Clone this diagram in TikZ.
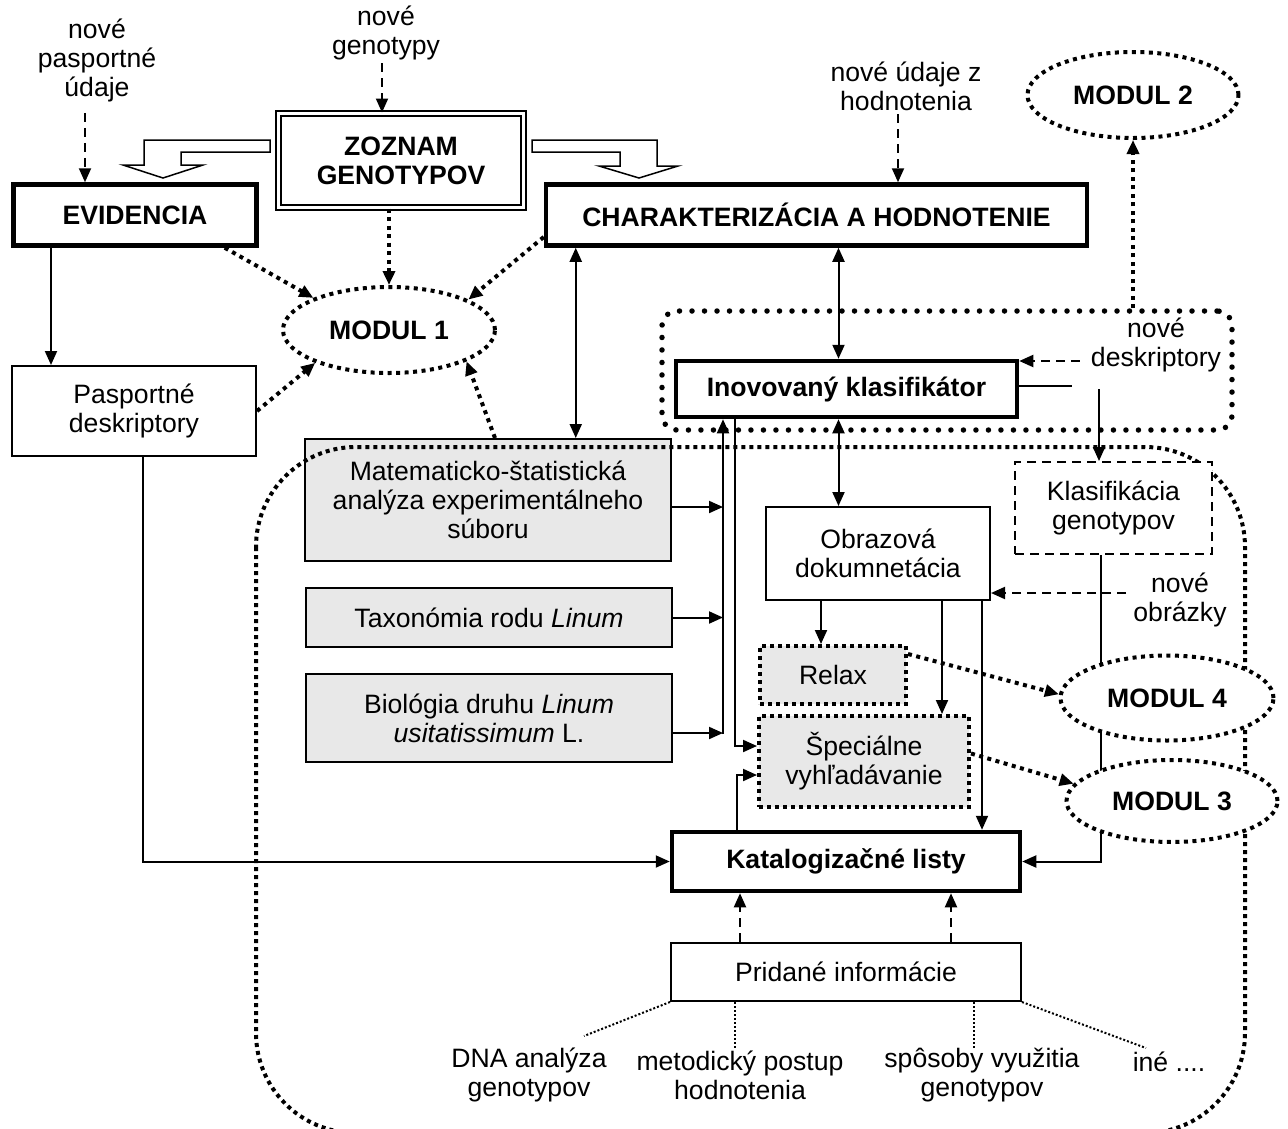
\documentclass[tikz,border=0pt]{standalone}
\usepackage{fontspec}
\setmainfont{Liberation Sans}
\usetikzlibrary{shapes.geometric,arrows.meta}

\begin{document}
\begin{tikzpicture}[x=1pt, y=-1pt, >={Triangle[length=14pt,width=12pt]},
	font=\fontsize{26.6}{29}\selectfont,
	box/.style={draw, line width=2pt, align=center, inner sep=0pt},
	mainbox/.style={box, line width=4.5pt, font=\fontsize{26.6}{29}\selectfont\bfseries},
	infobox/.style={box, fill=gray!18},
	searchbox/.style={box, fill=gray!18, line width=4pt, dash pattern=on 4pt off 4pt},
	modul/.style={ellipse, draw, fill=white, line width=4pt, dash pattern=on 4pt off 4.5pt, inner sep=0pt, font=\fontsize{26.6}{29}\selectfont\bfseries},
	txt/.style={align=center, inner sep=3pt},
	flow/.style={->, line width=2pt},
	newin/.style={->, line width=2pt, dash pattern=on 9pt off 6pt},
	modlink/.style={->, line width=4pt, dash pattern=on 4pt off 4.5pt},
	addlink/.style={line width=2pt, dash pattern=on 2pt off 2pt}]
\useasboundingbox (0,0) rectangle (1288,1128);
\fill[white] (0,0) rectangle (1288,1128);
\clip (0,0) rectangle (1288,1128);

% top row
\node[mainbox, double, double distance=3pt, line width=2pt, minimum width=245pt, minimum height=94pt] (zoznam) at (401,160.5) {ZOZNAM\\GENOTYPOV};
\node[mainbox, minimum width=243pt, minimum height=61pt] (evid) at (135,215) {EVIDENCIA};
\node[mainbox, minimum width=541pt, minimum height=61pt] (charakt) at (816.5,215) {CHARAKTERIZÁCIA A HODNOTENIE};
\draw[line width=1.5pt, fill=white] (270,140) -- (144,140) -- (144,165) -- (123,165) -- (163,178) -- (203,165) -- (181,165) -- (181,152) -- (270,152) -- cycle;
\draw[line width=1.5pt, fill=white] (532,140) -- (657,140) -- (657,166) -- (678,166) -- (639,178) -- (599,166) -- (620,166) -- (620,152) -- (532,152) -- cycle;

\node[txt] (npasp) at (97,60) {nové\\pasportné\\údaje};
\node[txt] (ngen) at (386,33) {nové\\genotypy};
\node[txt] (nudaje) at (906,86.5) {nové údaje z\\hodnotenia};

\node[box, minimum width=244pt, minimum height=90pt] (pasport) at (134,411) {Pasportné\\deskriptory};
\node[modul, minimum width=212pt, minimum height=86pt] (modul1) at (389,330) {MODUL 1};
\node[modul, minimum width=211pt, minimum height=86pt] (modul2) at (1133,95) {MODUL 2};

% klasifikator
\node[draw, line width=5.5pt, line cap=round, dash pattern=on 0pt off 12.5pt, rounded corners=15pt, minimum width=570pt, minimum height=119pt] (klasgrp) at (947,370.5) {};
\node[mainbox, minimum width=341pt, minimum height=56pt] (inov) at (846.5,389) {Inovovaný klasifikátor};
\node[txt] (ndesk) at (1156,345) {nové\\deskriptory};

% gray boxes
\node[infobox, minimum width=366pt, minimum height=122pt] (mat) at (488,500) {Matematicko-štatistická\\analýza experimentálneho\\súboru};
\node[infobox, minimum width=366pt, minimum height=59pt] (taxon) at (489,617.5) {Taxonómia rodu \textit{Linum}};
\node[infobox, minimum width=366pt, minimum height=88pt] (biol) at (489,718) {Biológia druhu \textit{Linum}\\\textit{usitatissimum} L.};

\draw[line width=4pt, dash pattern=on 4pt off 4pt, rounded corners=100pt] (256,447) rectangle (1245,1133);

\node[box, minimum width=224pt, minimum height=93pt] (obraz) at (878,553.5) {Obrazová\\dokumnetácia};
\node[box, fill=white, dash pattern=on 9pt off 6pt, minimum width=197pt, minimum height=92pt] (klasif) at (1113.5,508) {Klasifikácia\\genotypov};
\node[txt] (nobr) at (1180,600) {nové\\obrázky};
\node[searchbox, minimum width=146pt, minimum height=58pt] (relax) at (833,675) {Relax};
\node[searchbox, minimum width=210pt, minimum height=91pt] (spec) at (864,761.5) {Špeciálne\\vyhľadávanie};
\node[mainbox, minimum width=348pt, minimum height=59pt] (katalog) at (846,861.5) {Katalogizačné listy};
\node[box, minimum width=350pt, minimum height=58pt] (pridane) at (846,972) {Pridané informácie};

\node[txt] (dna) at (529,1075) {DNA analýza\\genotypov};
\node[txt] (metod) at (740,1075) {metodický postup\\hodnotenia};
\node[txt] (sposob) at (982,1075) {spôsoby využitia\\genotypov};
\node[txt] (ine) at (1169,1062) {iné ....};

\coordinate (kend) at (1072,386);
\coordinate (kstart) at (1099,389);
\coordinate (coll) at (723,734);
\coordinate (dnaend) at (584,1036);
\coordinate (metend) at (735,1049);
\coordinate (spoend) at (974,1049);
\coordinate (ineend) at (1146,1048);

% new inputs
\draw[newin] ([xshift=-12pt,yshift=-8pt]npasp.south) -- ([xshift=-12pt]npasp.south |- evid.north);
\draw[newin] ([xshift=-4pt]ngen.south) -- ([xshift=-4pt]ngen.south |- zoznam.north);
\draw[newin] ([xshift=-8pt]nudaje.south) -- ([xshift=-8pt]nudaje.south |- charakt.north);
\draw[newin] ([xshift=-8pt,yshift=-16pt]ndesk.west) -- ([yshift=-16pt]ndesk.west -| inov.east);
\draw[newin] ([xshift=-4pt,yshift=7pt]nobr.west) -- ([yshift=7pt]nobr.west -| obraz.east);

% solid connectors
\draw[flow] ([xshift=-84pt]evid.south) -- ([xshift=-84pt]evid.south |- pasport.north);
\draw[flow] ([xshift=9pt]pasport.south) |- (katalog.west);
\draw[flow, <->] ([xshift=32pt]charakt.south west) -- ([xshift=32pt]charakt.south west |- mat.north);
\draw[flow, <->] ([xshift=-8pt]inov.north |- charakt.south) -- ([xshift=-8pt]inov.north);
\draw[flow, <->] ([xshift=-8pt]inov.south) -- ([xshift=-8pt]inov.south |- obraz.north);
\draw[line width=2pt] ([yshift=3pt]inov.east) -- (kend);
\draw[flow] (kstart) -- (kstart |- klasif.north);
\draw[flow] (coll) -- (coll |- inov.south);
\draw[flow] ([yshift=-7pt]mat.east) -- ([yshift=-7pt]mat.east -| coll);
\draw[flow] (taxon.east) -- (taxon.east -| coll);
\draw[flow] ([yshift=-15pt]biol.east) -- ([yshift=-15pt]biol.east -| coll);
\draw[flow] ([xshift=61pt]inov.south west) |- ([yshift=15.5pt]spec.west);
\draw[flow] ([xshift=-109pt]katalog.north) |- ([yshift=-13.5pt]spec.west);
\draw[flow] ([xshift=-57pt]obraz.south) -- ([xshift=-57pt]obraz.south |- relax.north);
\draw[flow] ([xshift=64pt]obraz.south) -- ([xshift=64pt]obraz.south |- spec.north);
\draw[flow] ([xshift=104pt]obraz.south) -- ([xshift=104pt]obraz.south |- katalog.north);
\draw[flow] ([xshift=-12.5pt]klasif.south) |- (katalog.east);
\draw[newin] ([xshift=-106pt]pridane.north) -- ([xshift=-106pt]pridane.north |- katalog.south);
\draw[newin] ([xshift=105pt]pridane.north) -- ([xshift=105pt]pridane.north |- katalog.south);

% added information
\draw[addlink] (pridane.south west) -- (dnaend);
\draw[addlink] ([xshift=-111pt]pridane.south) -- (metend);
\draw[addlink] ([xshift=128pt]pridane.south) -- (spoend);
\draw[addlink] (pridane.south east) -- (ineend);

% moduly
\node[modul, minimum width=213pt, minimum height=85pt] (modul4) at (1167,698) {MODUL 4};
\node[modul, minimum width=211pt, minimum height=82pt] (modul3) at (1172,801) {MODUL 3};
\draw[modlink] ([xshift=-34pt]evid.south east) -- (modul1.157);
\draw[modlink] (modul1.north |- zoznam.south) -- (modul1.north);
\draw[modlink] ([yshift=-22pt]charakt.west) -- (modul1.21);
\draw[modlink] (pasport.east) -- (modul1.204);
\draw[modlink] ([xshift=7pt]mat.north) -- (modul1.338);
\draw[modlink] (modul2.south |- klasgrp.north) -- (modul2.south);
\draw[modlink] ([yshift=-10pt]relax.north east) -- (modul4.178);
\draw[modlink] ([yshift=8pt]spec.east) -- (modul3.170);
\end{tikzpicture}
\end{document}
